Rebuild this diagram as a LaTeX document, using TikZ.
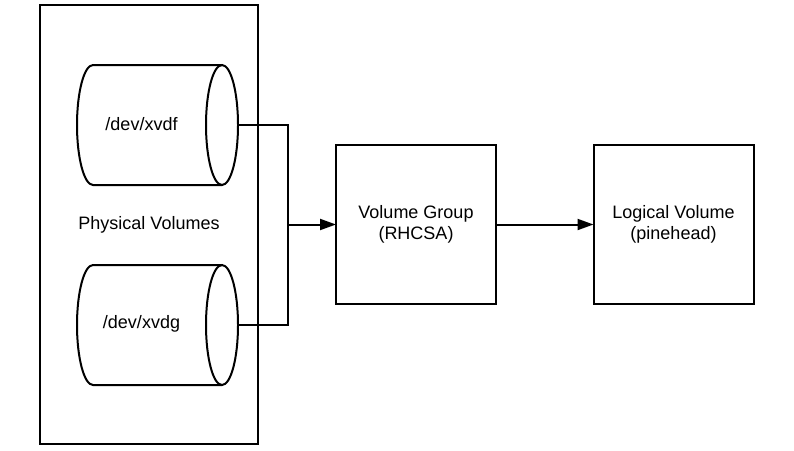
\documentclass[tikz,border=0pt]{standalone}
\usepackage{fontspec}
\setmainfont{Liberation Sans}
\usetikzlibrary{arrows.meta}
\tikzset{
  pvbox/.style={draw,line width=2pt,minimum width=218pt,minimum height=439pt,inner sep=0pt,outer sep=0pt},
  disk/.style={minimum width=161pt,minimum height=120pt,inner sep=0pt,outer sep=0pt},
  lvmbox/.style={draw,line width=2pt,minimum width=160pt,minimum height=159pt,inner sep=0pt,outer sep=0pt,align=center},
  link/.style={line width=2pt},
}
% outline of a disk lying on its side, round the node #1
\newcommand{\diskoutline}[1]{%
  \draw[line width=2pt] ([xshift=-16pt]#1.north east) -- ([xshift=16pt]#1.north west)
    arc[start angle=270,end angle=90,x radius=16,y radius=60]
    -- ([xshift=-16pt]#1.south east);
  \draw[line width=2pt] ([xshift=-16pt]#1.east) ellipse[x radius=16,y radius=60];
}
\begin{document}
\begin{tikzpicture}[x=1pt,y=-1pt,font=\fontsize{18}{21}\selectfont]
  \useasboundingbox (0,0) rectangle (794,450);
  \node[pvbox] (pvs) at (149,224.5) {Physical Volumes};
  \node[disk] (xvdf) at (157.5,125) {};
  \node[disk] (xvdg) at (157.5,325) {};
  \diskoutline{xvdf}
  \diskoutline{xvdg}
  \node (xvdflabel) at (141.5,124) {/dev/xvdf};
  \node (xvdglabel) at (141.5,324) {/dev/xvdg};
  \node[lvmbox] (vg) at (416,224.5) {Volume Group\\(RHCSA)};
  \node[lvmbox] (lv) at (673.5,224.5) {Logical Volume\\(pinehead)};
  \coordinate (join) at (287.5,224.5);
  \begin{scope}[link]
    \draw (xvdf.east) -| (join);
    \draw (xvdg.east) -| (join);
    \draw[-{Triangle[length=16pt,width=11pt]}] (join) -- (vg);
    \draw[-{Triangle[length=16pt,width=11pt]}] (vg) -- (lv);
  \end{scope}
\end{tikzpicture}
\end{document}
